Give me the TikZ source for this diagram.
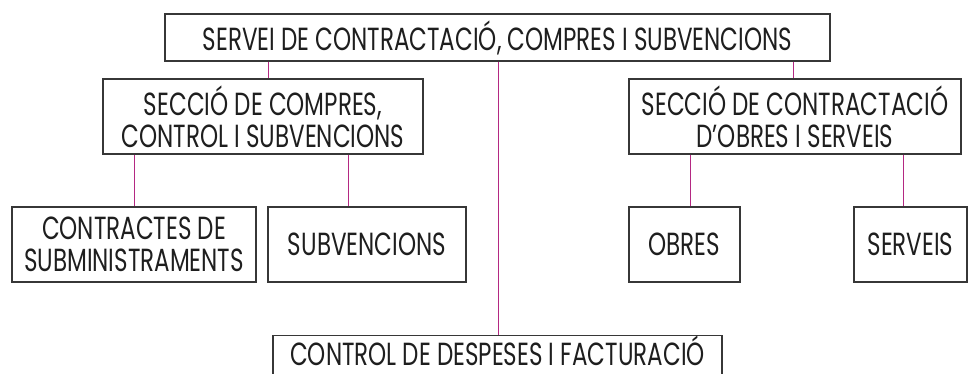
\documentclass[tikz,border=0pt]{standalone}
\usepackage{fontspec}
\setmainfont{Poppins}[FakeStretch=0.72]
\definecolor{boxline}{RGB}{55,55,55}
\definecolor{linkc}{RGB}{180,40,130}
\definecolor{txt}{RGB}{30,30,30}
\tikzset{
  orgbox/.style={draw=boxline, line width=1.1pt, fill=white, align=center, text=txt,
    inner sep=0pt, font=\fontsize{32}{32}\selectfont},
  link/.style={draw=linkc, line width=1pt}
}
\begin{document}
\begin{tikzpicture}[x=1pt,y=-1pt]
\useasboundingbox (0,0) rectangle (971,374);
\clip (0,0) rectangle (971,374);
\node[orgbox, minimum width=665pt, minimum height=47pt] (top) at (497.5,37.5)
  {SERVEI DE CONTRACTACIÓ, COMPRES I SUBVENCIONS};
\node[orgbox, minimum width=320pt, minimum height=75pt] (secL) at (263,116.5)
  {SECCIÓ DE COMPRES,\\CONTROL I SUBVENCIONS};
\node[orgbox, minimum width=332pt, minimum height=75pt] (secR) at (795,116.5)
  {SECCIÓ DE CONTRACTACIÓ\\D’OBRES I SERVEIS};
\node[orgbox, minimum width=244pt, minimum height=75pt] (contr) at (134,244.5)
  {CONTRACTES DE\\SUBMINISTRAMENTS};
\node[orgbox, minimum width=198pt, minimum height=75pt] (subv) at (367,244.5)
  {SUBVENCIONS};
\node[orgbox, minimum width=111pt, minimum height=75pt] (obres) at (684.5,244.5)
  {OBRES};
\node[orgbox, minimum width=113pt, minimum height=75pt] (serv) at (910.5,244.5)
  {SERVEIS};
\node[orgbox, anchor=north, minimum width=449pt, text height=18pt, text depth=0pt,
  inner ysep=12pt] (ctrl) at (497.5,335)
  {CONTROL DE DESPESES I FACTURACIÓ};
% connectors
\draw[link] (top.south -| 268,0) -- (secL.north -| 268,0);
\draw[link] (top.south -| 793,0) -- (secR.north -| 793,0);
\draw[link] (top.south -| 498,0) -- (ctrl.north -| 498,0);
\draw[link] (secL.south -| 134,0) -- (contr.north -| 134,0);
\draw[link] (secL.south -| 348,0) -- (subv.north -| 348,0);
\draw[link] (secR.south -| 690,0) -- (obres.north -| 690,0);
\draw[link] (secR.south -| 903,0) -- (serv.north -| 903,0);
\end{tikzpicture}
\end{document}
